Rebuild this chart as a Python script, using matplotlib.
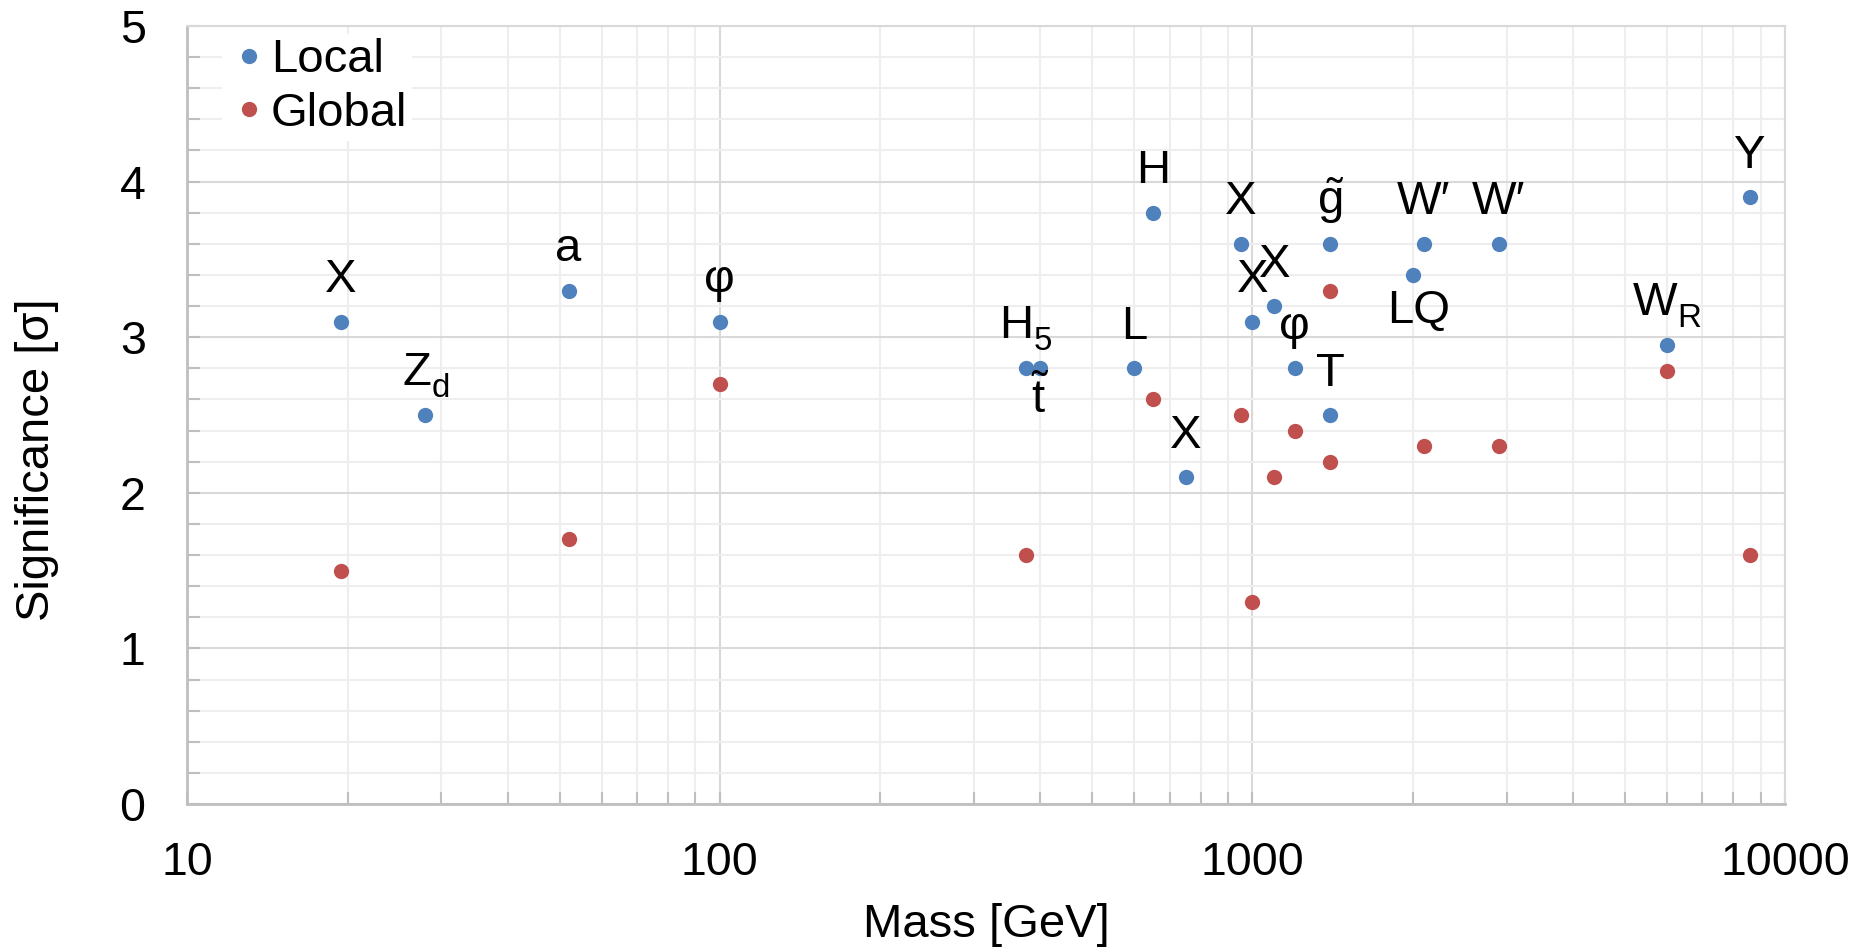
import numpy as np
import matplotlib
matplotlib.use("Agg")
from matplotlib import pyplot as plt
from matplotlib import _mathtext
from matplotlib.ticker import LogLocator, MultipleLocator, FuncFormatter, NullFormatter

plt.rcParams['font.family'] = ['Liberation Sans', 'DejaVu Sans']
plt.rcParams['mathtext.fontset'] = 'custom'
plt.rcParams['mathtext.rm'] = 'Liberation Sans'
plt.rcParams['mathtext.it'] = 'Liberation Sans'
plt.rcParams['mathtext.bf'] = 'Liberation Sans:bold'


# drop subscripts a bit lower than the mathtext default
class LowSubscripts(_mathtext.FontConstantsBase):
    subdrop = 0.65
    sub1 = 0.5


_mathtext._font_constant_mapping['Liberation Sans'] = LowSubscripts

# excesses: particle label, mass [GeV], local and global significance [sigma]
names = ['X', r'Z$_\mathrm{d}$', 'a', 'φ', r'H$_5$', r'$\tilde{\mathrm{t}}$', 'L', 'H', 'X', 'X',
         'X', 'X', 'φ', r'$\tilde{\mathrm{g}}$', 'T', 'LQ', 'W′', 'W′', r'W$_\mathrm{R}$', 'Y']
mass = [19.4, 28, 52, 100, 375, 400, 600, 650, 750, 950,
        1000, 1100, 1200, 1400, 1400, 2000, 2100, 2900, 6000, 8600]
local_sig = [3.1, 2.5, 3.3, 3.1, 2.8, 2.8, 2.8, 3.8, 2.1, 3.6,
             3.1, 3.2, 2.8, 3.6, 2.5, 3.4, 3.6, 3.6, 2.95, 3.9]
global_sig = [1.5, np.nan, 1.7, 2.7, 1.6, np.nan, np.nan, 2.6, np.nan, 2.5,
              1.3, 2.1, 2.4, 3.3, 2.2, np.nan, 2.3, 2.3, 2.78, 1.6]

# labels that sit under their point instead of above it
label_below = {5: (0, -32.4), 15: (4.3, -34.3)}

blue = '#4f81bd'
red = '#c0504d'
major_grid = '#d9d9d9'
minor_grid = '#eeeeee'
axis_grey = '#bfbfbf'

fig = plt.figure(figsize=(18.58, 9.48), dpi=100)
ax = fig.add_axes([0.1008, 0.1519, 0.8599, 0.8207])

ax.plot(mass, local_sig, 'o', color=blue, ms=11, mew=0, label='Local', zorder=3)
ax.plot(mass, global_sig, 'o', color=red, ms=11, mew=0, label='Global', zorder=3)

for i, (name, m, s) in enumerate(zip(names, mass, local_sig)):
    off = label_below.get(i, (0, 21.2))
    ax.annotate(name, (m, s), xytext=off, textcoords='offset points',
                ha='center', va='baseline', fontsize=34, zorder=4)

ax.set_xscale('log')
ax.set_xlim(10, 10000)
ax.set_ylim(0, 5)

ax.xaxis.set_major_locator(LogLocator(base=10))
ax.xaxis.set_minor_locator(LogLocator(base=10, subs=np.arange(2, 10)))
ax.xaxis.set_major_formatter(FuncFormatter(lambda v, p: '%d' % round(v)))
ax.xaxis.set_minor_formatter(NullFormatter())
ax.yaxis.set_major_locator(MultipleLocator(1))
ax.yaxis.set_minor_locator(MultipleLocator(0.2))

ax.grid(which='major', color=major_grid, lw=1.5, zorder=0)
ax.grid(which='minor', color=minor_grid, lw=1.5, zorder=0)
ax.set_axisbelow(True)

for side in ['left', 'bottom']:
    ax.spines[side].set_color(axis_grey)
    ax.spines[side].set_linewidth(2)
for side in ['top', 'right']:
    ax.spines[side].set_color(major_grid)
    ax.spines[side].set_linewidth(1.5)

ax.tick_params(which='both', direction='in', length=9, width=1.5, color=axis_grey,
               top=False, right=False)
ax.tick_params(axis='x', which='major', labelsize=33.5, pad=27)
ax.tick_params(axis='y', which='major', labelsize=33.5, pad=30)

ax.set_xlabel('Mass [GeV]', fontsize=34, va='baseline')
ax.xaxis.set_label_coords(0.5, -0.1713)
ax.set_ylabel('Significance [σ]', fontsize=34, va='center')
ax.yaxis.set_label_coords(-0.0938, 0.442)

leg = ax.legend(loc='upper left', bbox_to_anchor=(0.0217, 0.990), borderaxespad=0,
                fontsize=34, frameon=True, framealpha=1, fancybox=False,
                edgecolor='none', handlelength=0.94, handletextpad=0.0,
                borderpad=0.1, labelspacing=0.2, numpoints=1)
leg.set_zorder(5)

plt.savefig('out.png', dpi=100)
